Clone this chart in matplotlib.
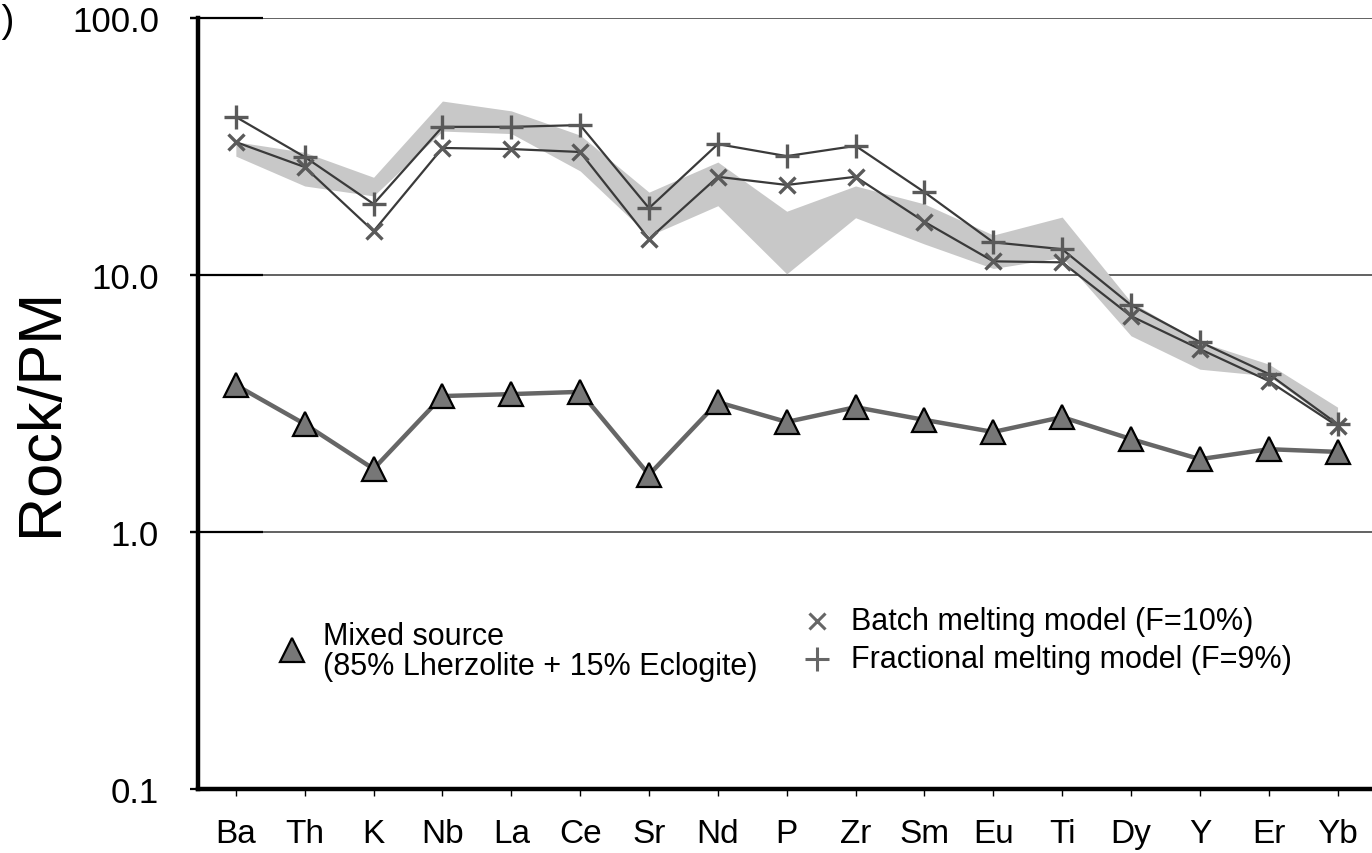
import matplotlib

matplotlib.use("Agg")
import matplotlib.pyplot as plt

plt.rcParams["font.family"] = ["Liberation Sans", "DejaVu Sans"]

elements = ["Ba", "Th", "K", "Nb", "La", "Ce", "Sr", "Nd", "P", "Zr",
            "Sm", "Eu", "Ti", "Dy", "Y", "Er", "Yb"]

# observed range (grey field)
band_hi = [33.0, 30.0, 24.0, 47.5, 43.5, 35.0, 21.0, 27.5, 17.7, 22.2,
           18.9, 14.3, 16.8, 7.85, 5.5, 4.5, 3.06]
band_lo = [29.0, 22.2, 20.3, 36.3, 35.5, 25.4, 14.2, 18.6, 10.1, 16.7,
           13.2, 10.6, 11.7, 5.8, 4.3, 4.05, 2.58]

batch = [32.9, 26.3, 14.8, 31.2, 30.9, 30.1, 13.8, 24.1, 22.4, 24.1,
         16.1, 11.3, 11.2, 6.92, 5.15, 3.87, 2.58]
fractional = [41.2, 28.8, 18.9, 37.7, 37.7, 38.3, 18.2, 32.3, 29.0, 31.8,
              21.0, 13.4, 12.6, 7.64, 5.49, 4.12, 2.63]
mixed_source = [3.73, 2.63, 1.76, 3.38, 3.44, 3.51, 1.67, 3.20, 2.68, 3.06,
                2.73, 2.45, 2.80, 2.30, 1.92, 2.10, 2.05]

yticks = [0.1, 1.0, 10.0, 100.0]

BAND = "#c8c8c8"
LINE = "#3a3a3a"
MARK = "#5a5a5a"
TRI_LINE = "#666666"
TRI_FILL = "#777777"

fig = plt.figure(figsize=(13.72, 8.54), dpi=100)
ax = fig.add_axes([0.1443, 0.0749, 0.8557, 0.9029])
x = list(range(len(elements)))

ax.fill_between(x, band_lo, band_hi, color=BAND, linewidth=0, zorder=1)

ax.plot(x, batch, color=LINE, lw=1.6, zorder=3)
ax.plot(x, batch, ls="", marker="x", ms=12, mew=2.4, color=MARK, zorder=4)
ax.plot(x, fractional, color=LINE, lw=1.6, zorder=3)
ax.plot(x, fractional, ls="", marker="+", ms=17, mew=2.4, color=MARK, zorder=4)

ax.plot(x, mixed_source, color=TRI_LINE, lw=3.2, zorder=3)
ax.plot(x, mixed_source, ls="", marker="^", ms=17, mfc=TRI_FILL, mec="black",
        mew=1.6, zorder=4)

ax.set_yscale("log")
ax.set_ylim(0.1, 100)
ax.set_xlim(-0.55, 16.5)
ax.set_yticks(yticks)
ax.set_yticklabels([f"{v:.1f}" for v in yticks])
ax.minorticks_off()
ax.set_xticks(x)
ax.set_xticklabels(elements)

for v in yticks[1:]:
    ax.axhline(v, color="#555555", lw=1.3, zorder=0.5)
# short black stubs where the gridlines meet the axis
ax.hlines(yticks[1:], -0.007, 0.055, transform=ax.get_yaxis_transform(),
          color="black", lw=1.6, clip_on=False, zorder=5)

for side in ("top", "right"):
    ax.spines[side].set_visible(False)
for side in ("left", "bottom"):
    ax.spines[side].set_linewidth(3.2)
    ax.spines[side].set_color("black")

ax.tick_params(axis="y", direction="out", length=6, width=1.6, pad=22,
               labelsize=25)
ax.tick_params(axis="x", direction="out", length=5, width=1.0, pad=16,
               labelsize=24)

ax.set_ylabel("Rock/PM", fontsize=44, va="center")
ax.yaxis.set_label_coords(-0.133, 0.49)

# legend drawn by hand
tr = ax.transAxes
ax.plot([0.0801], [0.1806], transform=tr, ls="", marker="^", ms=17,
        mfc=TRI_FILL, mec="black", mew=1.6, clip_on=False)
ax.text(0.1065, 0.1790, "Mixed source\n(85% Lherzolite + 15% Eclogite)",
        transform=tr, fontsize=22, va="center", ha="left", linespacing=1.02)
ax.plot([0.527], [0.218], transform=tr, ls="", marker="x", ms=12, mew=2.2,
        color="#666666", clip_on=False)
ax.text(0.556, 0.218, "Batch melting model (F=10%)", transform=tr,
        fontsize=22, va="center", ha="left")
ax.plot([0.527], [0.1686], transform=tr, ls="", marker="+", ms=17, mew=2.2,
        color="#666666", clip_on=False)
ax.text(0.556, 0.1686, "Fractional melting model (F=9%)", transform=tr,
        fontsize=22, va="center", ha="left")

fig.text(15 / 1372, 1 - 22 / 854, "(b)", ha="right", va="center", fontsize=28)

fig.savefig("out.png", dpi=100, facecolor="white")
